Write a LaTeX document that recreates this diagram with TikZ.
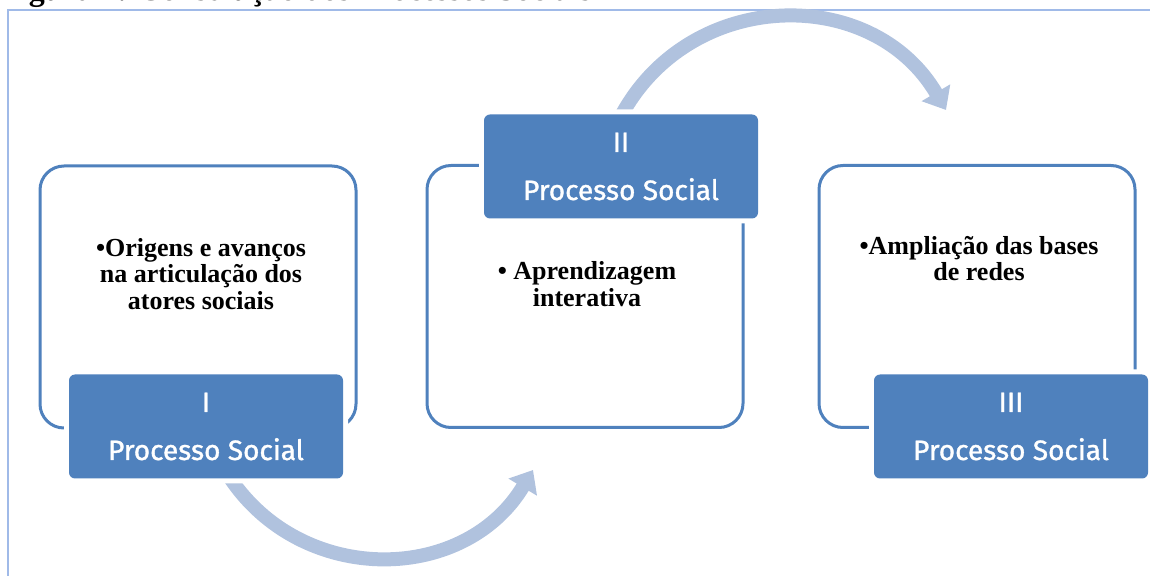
\documentclass[tikz,border=0pt]{standalone}
\usepackage{fontspec}
\setmainfont{Liberation Serif}
\newfontfamily\tagfont[FakeBold=1.2]{Fira Sans}
\usetikzlibrary{arrows.meta}

\definecolor{boxblue}{RGB}{79,129,189}
\definecolor{arrowblue}{RGB}{176,194,222}
\definecolor{frameblue}{RGB}{160,186,232}

\begin{document}
\begin{tikzpicture}[x=0.5pt,y=-0.5pt,
  bigbox/.style={draw=boxblue,line width=1.5pt,fill=white,rounded corners=12pt,
    minimum width=158pt,minimum height=131pt,inner sep=0pt},
  headbox/.style={fill=boxblue,rounded corners=3pt,preaction={draw=white,line width=5pt},
    minimum width=137pt,minimum height=52pt,inner sep=0pt,align=center,text=white,
    font=\tagfont\fontsize{14}{24}\selectfont},
  bodytext/.style={align=center,inner sep=0pt,font=\bfseries\fontsize{13}{13.4}\selectfont},
  flow/.style={draw=arrowblue,line width=7pt,-{Triangle[length=10pt,width=16pt]}}]
\useasboundingbox (0,0) rectangle (1150,576);
% frame and caption
\draw [frameblue,line width=1pt] (8,576) -- (8,10) -- (1150,10);
\node (title) [anchor=base west,inner sep=0pt,font=\bfseries\fontsize{16}{18}\selectfont] at (0,1) {Figura 1: Construção dos Processos Sociais};
% arrows
\coordinate (a1) at (225,470);
\coordinate (b1) at (533,470);
\coordinate (a2) at (620,118);
\coordinate (b2) at (946,110);
\draw [flow] (a1) to[bend right=59,looseness=1.13] (b1);
\draw [flow] (a2) to[bend left=61,looseness=1.15] (b2);
% processo I
\node (box1) [bigbox] at (198,297) {};
\node (txt1) [bodytext] at (201,274) {•Origens e avanços\\na articulação dos\\atores sociais};
\node (head1) [headbox] at (206,426.5) {I\\Processo Social};
% processo II
\node (box2) [bigbox] at (585,296.5) {};
\node (txt2) [bodytext] at (587,284) {• Aprendizagem\\interativa};
\node (head2) [headbox] at (621,166.5) {II\\Processo Social};
% processo III
\node (box3) [bigbox] at (977,296.5) {};
\node (txt3) [bodytext] at (979,258.5) {•Ampliação das bases\\de redes};
\node (head3) [headbox] at (1011,426.5) {III\\Processo Social};
\end{tikzpicture}
\end{document}
